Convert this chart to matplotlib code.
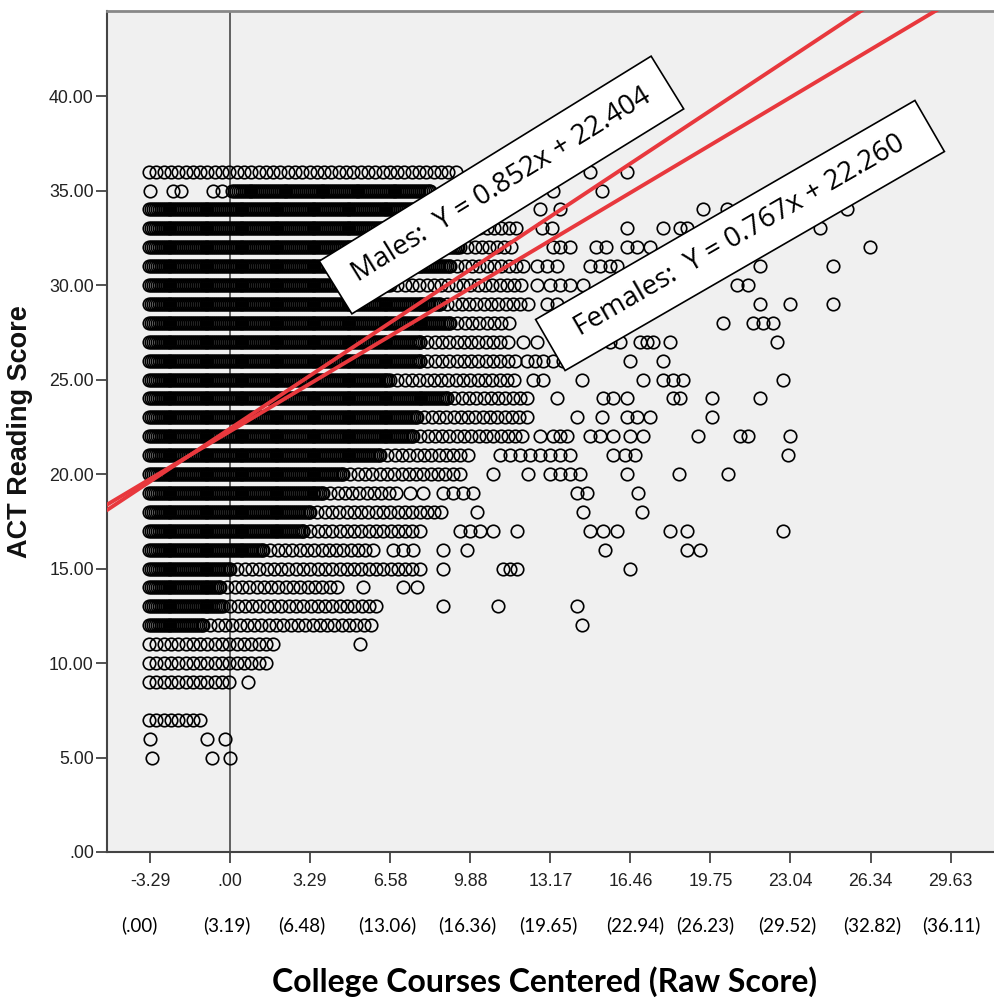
import numpy as np
import matplotlib
matplotlib.use('Agg')
import matplotlib.pyplot as plt
import matplotlib.transforms as mtransforms
from matplotlib.patches import Rectangle

# ACT reading score rows (y) and, for each row, the stretch of overplotted
# circles: solid part, then touching circles, then
# the scattered circles further right (all in centered course units)
score_rows = [36, 35, 34, 33, 32, 31, 30, 29, 28, 27, 26, 25, 24, 23, 22,
              21, 20, 19, 18, 17, 16, 15, 14, 13, 12, 11, 10, 9, 7, 6, 5]
band_start = [-3.33, 0.08, -3.33, -3.33, -3.33, -3.33, -3.33, -3.33, -3.33,
              -3.33, -3.33, -3.33, -3.33, -3.33, -3.33, -3.33, -3.33, -3.33,
              -3.33, -3.33, -3.33, -3.33, -3.33, -3.33, -3.33, -3.33, -3.33,
              -3.33, -3.33, np.nan, np.nan]
dense_end = [-3.33, 8.22, 9.05, 9.05, 9.46, 9.05, 6.58, 8.63, 9.05, 7.81,
             7.81, 6.58, 8.92, 7.69, 7.52, 6.17, 4.65, 3.82, 3.29, 3.00,
             1.36, 0.00, -0.41, -0.29, -1.11, -3.33, -3.33, -3.33, -3.33,
             np.nan, np.nan]
band_end = [9.33, 8.22, 11.10, 11.80, 11.80, 12.05, 12.21, 12.46, 11.51,
            11.51, 11.80, 11.92, 12.46, 12.46, 12.05, 9.87, 9.58, 6.87, 8.76,
            7.94, 6.04, 7.94, 4.40, 6.04, 6.04, 2.06, 1.52, 0.00, -1.23,
            np.nan, np.nan]
scattered = [
    [11.80, 11.92, 12.87, 14.80, 16.32],
    [-3.29, -2.34, -2.01, -0.70, -0.33, 11.80, 13.28, 15.30],
    [12.75, 13.57, 19.45, 20.44, 25.37],
    [12.83, 13.24, 16.32, 17.80, 18.50, 18.79, 24.26],
    [13.28, 13.57, 13.98, 15.05, 15.46, 16.32, 16.74, 17.27, 26.32],
    [12.62, 13.03, 13.45, 14.80, 15.21, 15.63, 15.91, 21.79, 24.79],
    [12.62, 13.16, 13.57, 13.98, 14.51, 20.85, 21.30],
    [13.03, 13.45, 21.79, 23.03, 24.79],
    [20.27, 21.50, 21.92, 22.33],
    [12.05, 12.62, 15.63, 16.04, 16.86, 17.15, 17.39, 18.09, 22.49],
    [12.21, 12.54, 12.87, 13.28, 13.69, 16.45, 17.80],
    [12.46, 12.87, 14.47, 16.98, 17.80, 18.22, 18.63, 22.74],
    [13.45, 15.34, 15.75, 16.32, 18.22, 18.50, 19.82, 21.79],
    [14.27, 15.30, 16.32, 16.74, 17.27, 19.82],
    [12.75, 13.28, 13.57, 13.86, 14.80, 15.21, 15.75, 16.45, 16.98, 19.24,
     20.97, 21.30, 23.03],
    [11.10, 11.51, 11.92, 12.34, 12.75, 13.16, 13.57, 13.98, 15.75, 16.24,
     16.65, 22.94],
    [10.81, 12.25, 13.16, 13.57, 13.98, 14.39, 16.32, 18.46, 20.48],
    [7.40, 7.94, 8.76, 9.17, 9.58, 9.99, 14.27, 14.68, 16.78],
    [10.16, 14.51, 16.94],
    [9.46, 9.87, 10.28, 10.81, 11.80, 14.80, 15.34, 15.91, 18.09, 18.79,
     22.74],
    [6.70, 7.11, 7.52, 8.76, 9.75, 15.42, 18.79, 19.33],
    [8.76, 11.23, 11.51, 11.80, 16.45],
    [5.47, 7.11, 7.69],
    [8.76, 11.02, 14.27],
    [14.47],
    [5.35],
    [],
    [0.74],
    [],
    [-3.29, -0.95, -0.21],
    [-3.21, -0.74, 0.00],
]

# regression fits shown in the boxes
male_slope, male_icept = 0.852, 22.404
female_slope, female_icept = 0.767, 22.260

x_ticks = [-3.29, 0.00, 3.29, 6.58, 9.88, 13.17, 16.46, 19.75, 23.04, 26.34, 29.63]
x_tick_labels = ['-3.29', '.00', '3.29', '6.58', '9.88', '13.17', '16.46',
                 '19.75', '23.04', '26.34', '29.63']
raw_pos = [-3.74, -0.12, 2.96, 6.46, 9.75, 13.08, 16.65, 19.53, 22.90, 26.40, 29.65]
raw_labels = ['(.00)', '(3.19)', '(6.48)', '(13.06)', '(16.36)', '(19.65)',
              '(22.94)', '(26.23)', '(29.52)', '(32.82)', '(36.11)']
y_ticks = [0, 5, 10, 15, 20, 25, 30, 35, 40]
y_tick_labels = ['.00', '5.00', '10.00', '15.00', '20.00', '25.00', '30.00',
                 '35.00', '40.00']

W, H = 995, 1001
fig = plt.figure(figsize=(W / 100, H / 100), dpi=100)
ax = fig.add_axes([107 / W, (H - 852) / H, (W - 107) / W, 841 / H])
ax.set_facecolor('#f0f0f0')
ax.set_xlim(-5.06, 31.45)
ax.set_ylim(0, 44.5)

# reference line at zero
ax.axvline(0, color='#555555', lw=1.3, zorder=1)

# the circles, row by row
for y, s, d, e, extra in zip(score_rows, band_start, dense_end, band_end, scattered):
    xs = list(extra)
    if not np.isnan(s):
        xs += list(np.arange(s, d, 0.08))
        xs += list(np.arange(d, e + 1e-9, 0.3))
    ax.plot(xs, [y] * len(xs), 'o', ms=9, mfc='none', mec='black',
            mew=1.2, zorder=2)

# fitted lines for males and females
xline = np.array(ax.get_xlim())
ax.plot(xline, male_slope * xline + male_icept, color='#e8383d', lw=2.8, zorder=3)
ax.plot(xline, female_slope * xline + female_icept, color='#e8383d', lw=2.8, zorder=3)

# rotated white boxes with the equations (placed in pixel space)
boxes = [
    ('Males:  Y = 0.852x + 22.404', 501.5, 185, 390, 62, 31.7),
    ('Females:  Y = 0.767x + 22.260', 740, 235.5, 438, 59, 30.0),
]
for label, cx, cy, bw, bh, ang in boxes:
    cyd = H - cy
    tr = mtransforms.Affine2D().rotate_deg_around(cx, cyd, ang) + mtransforms.IdentityTransform()
    rect = Rectangle((cx - bw / 2, cyd - bh / 2), bw, bh, facecolor='white',
                     edgecolor='black', lw=1.2, transform=tr, zorder=5)
    fig.patches.append(rect)
    fig.text(cx / W, cyd / H, label, rotation=ang, rotation_mode='anchor',
             ha='center', va='center', fontsize=20, family='Open Sans',
             color='black', zorder=6)

# axes styling
ax.spines['right'].set_visible(False)
ax.spines['top'].set_color('#888888')
ax.spines['top'].set_linewidth(2)
ax.spines['left'].set_color('#444444')
ax.spines['left'].set_linewidth(1.5)
ax.spines['bottom'].set_color('#444444')
ax.spines['bottom'].set_linewidth(1.5)

ax.set_xticks(x_ticks)
ax.set_xticklabels(x_tick_labels)
ax.set_yticks(y_ticks)
ax.set_yticklabels(y_tick_labels)
ax.tick_params(axis='both', length=8, width=1.3, color='#444444',
               labelcolor='#222222', labelsize=12.8)
ax.tick_params(axis='x', pad=7)
ax.tick_params(axis='y', pad=1.5)
for lab in ax.get_xticklabels() + ax.get_yticklabels():
    lab.set_family('Liberation Sans')

# raw-score labels under the centered ticks
blend = mtransforms.blended_transform_factory(ax.transData, fig.transFigure)
for xp, lab in zip(raw_pos, raw_labels):
    fig.text(xp, 1 - 925 / H, lab, transform=blend, ha='center', va='center',
             fontsize=13.5, family='Lato', color='black')

ax.set_ylabel('ACT Reading Score', fontsize=19.5, fontweight='bold',
              family='Liberation Sans', color='#111111')
ax.yaxis.set_label_coords(-0.083, 0.5)
fig.text(545 / W, 1 - 982 / H, 'College Courses Centered (Raw Score)',
         ha='center', va='center', fontsize=23, fontweight='bold',
         family='Lato', color='black')

fig.savefig('out.png', dpi=100)
